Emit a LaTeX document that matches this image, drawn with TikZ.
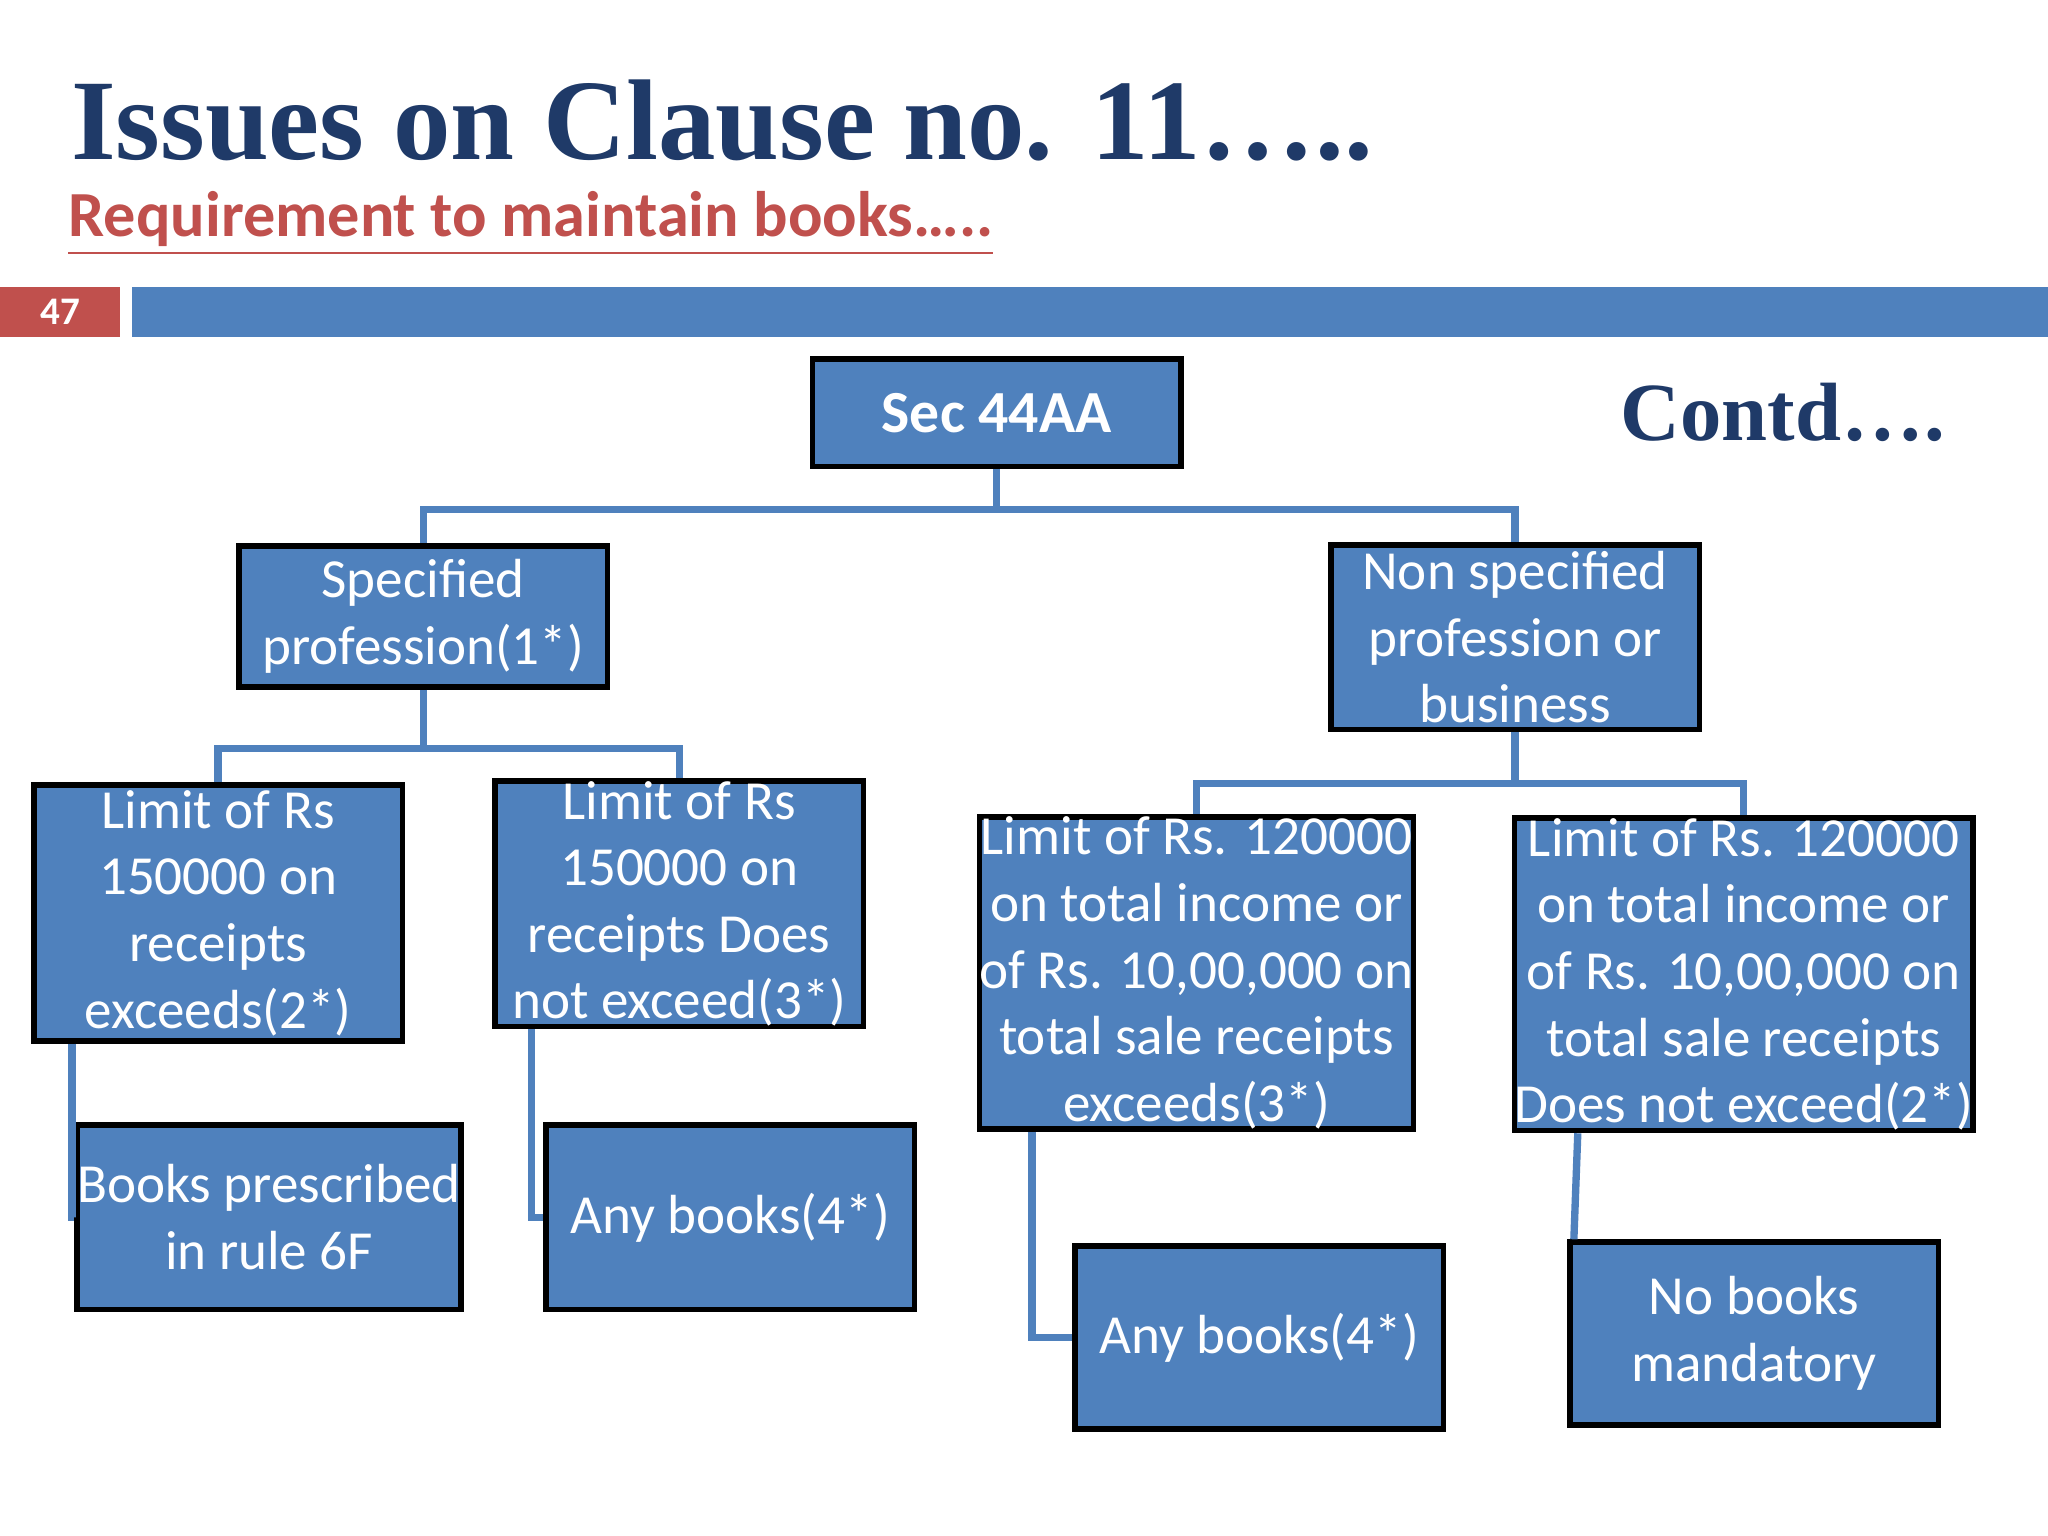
\documentclass[tikz,border=0pt]{standalone}
\usepackage{fontspec}
\setmainfont{Carlito}
\newfontfamily\ttl{Liberation Serif}
\definecolor{bx}{HTML}{4F81BD}
\definecolor{ttlc}{HTML}{1F3A68}
\definecolor{redc}{HTML}{C0504D}
\begin{document}
\begin{tikzpicture}[x=0.01cm,y=-0.01cm,
 box/.style={draw=black,line width=1.2pt,fill=bx,text=white,align=center,inner sep=0pt,font=\fontsize{12}{14.5}\selectfont},
 ln/.style={draw=bx,line width=1.6pt}]
\useasboundingbox (0,0) rectangle (1568,1176);
\fill[white] (0,0) rectangle (1568,1176);
\node[anchor=base west,text=ttlc,font=\ttl\bfseries\fontsize{25}{30}\selectfont] (title) at (42,122) {Issues on Clause no. 11\dots..};
\node[anchor=base west,text=redc,font=\bfseries\fontsize{14}{17}\selectfont] (sub) at (40,181) {\underline{Requirement to maintain books\dots..}};
\fill[redc] (0,220) rectangle (92,258);
\fill[bx] (101,220) rectangle (1568,258);
\node[text=white,font=\bfseries\fontsize{8.5}{10}\selectfont] (pg) at (46,239) {47};
\node[text=ttlc,font=\ttl\bfseries\fontsize{18}{22}\selectfont] (contd) at (1365,316) {Contd\dots.};
\node[box,minimum width=2.82cm,minimum height=0.82cm,font=\bfseries\fontsize{13}{16}\selectfont] (sec) at (763,316) {Sec 44AA};
\node[box,minimum width=2.82cm,minimum height=1.08cm] (sp) at (324,472) {Specified\\profession(1*)};
\node[box,minimum width=2.82cm,minimum height=1.41cm] (ns) at (1160,488) {Non specified\\profession or\\business};
\node[box,minimum width=2.82cm,minimum height=1.96cm] (l1) at (167,699) {Limit of Rs\\150000 on\\receipts\\exceeds(2*)};
\node[box,minimum width=2.82cm,minimum height=1.82cm] (l2) at (520,692) {Limit of Rs\\150000 on\\receipts Does\\not exceed(3*)};
\node[box,minimum width=3.16cm,minimum height=2.36cm] (l3) at (916,745) {Limit of Rs. 120000\\on total income or\\of Rs. 10,00,000 on\\total sale receipts\\exceeds(3*)};
\node[box,minimum width=3.18cm,minimum height=2.39cm] (l4) at (1335,746) {Limit of Rs. 120000\\on total income or\\of Rs. 10,00,000 on\\total sale receipts\\Does not exceed(2*)};
\node[box,minimum width=2.82cm,minimum height=1.41cm] (b1) at (206,932) {Books prescribed\\in rule 6F};
\node[box,minimum width=2.82cm,minimum height=1.41cm] (b2) at (559,932) {Any books(4*)};
\node[box,minimum width=2.82cm,minimum height=1.4cm] (b3) at (964,1024) {Any books(4*)};
\node[box,minimum width=2.82cm,minimum height=1.4cm] (b4) at (1343,1021) {No books\\mandatory};
\begin{scope}[on background layer/.style={}]
\draw[ln] (sec.south) -- ++(0,31) -| (sp.north);
\draw[ln] (sec.south) ++(0,31) -| (ns.north);
\draw[ln] (sp.south) -- ++(0,45) -| (l1.north);
\draw[ln] (sp.south) ++(0,45) -| (l2.north);
\draw[ln] (ns.south) -- ++(0,39) -| (l3.north);
\draw[ln] (ns.south) ++(0,39) -| (l4.north);
\draw[ln] (l1.south -| 55,0) |- (b1.west);
\draw[ln] (l2.south -| 407,0) |- (b2.west);
\draw[ln] (l3.south -| 790,0) |- (b3.west);
\draw[ln] (l4.south -| 1208,0) -- (b4.north -| 1205,0);
\end{scope}
\end{tikzpicture}
\end{document}
